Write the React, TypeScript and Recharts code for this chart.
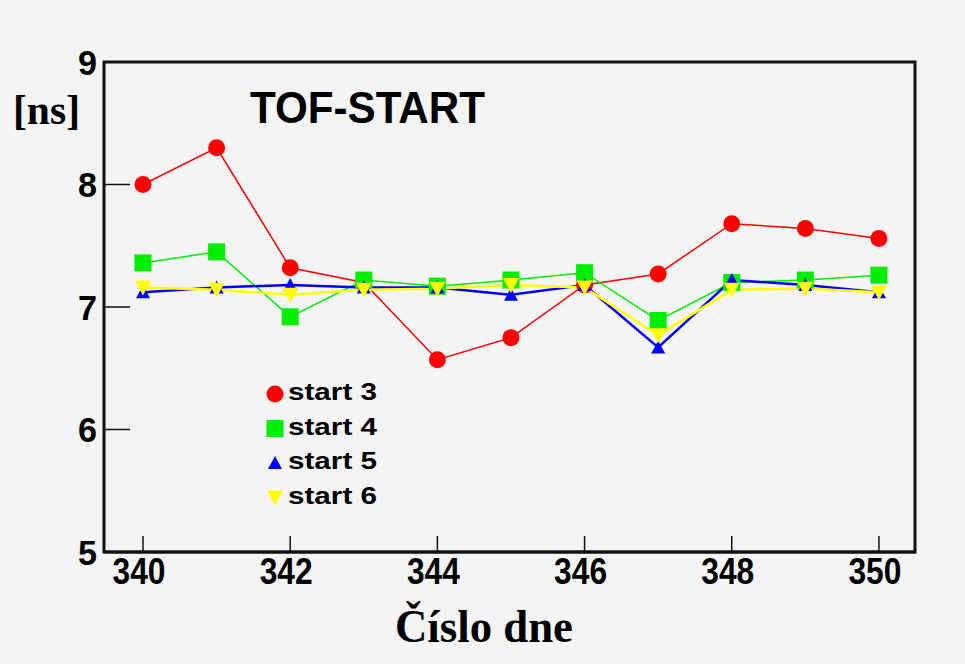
import React from 'react';
import { LineChart, Line, XAxis, YAxis, Legend, ReferenceArea } from 'recharts';

// day numbers on the x axis
const days = [340, 341, 342, 343, 344, 345, 346, 347, 348, 349, 350];

// TOF-START values [ns]
const start3 = [8.0, 8.3, 7.32, 7.2, 6.57, 6.75, 7.18, 7.27, 7.68, 7.64, 7.56];
const start4 = [7.36, 7.45, 6.92, 7.22, 7.17, 7.22, 7.28, 6.89, 7.2, 7.22, 7.26];
const start5 = [7.12, 7.16, 7.18, 7.16, 7.16, 7.1, 7.18, 6.67, 7.22, 7.18, 7.12];
const start6 = [7.16, 7.14, 7.1, 7.14, 7.15, 7.18, 7.16, 6.77, 7.14, 7.15, 7.12];

const xTicks = [340, 342, 344, 346, 348, 350];
const yTicks = [5, 6, 7, 8, 9];
const xDomain = [339.47, 350.49];
const yDomain = [5, 9];

const series = [
  { key: 'start3', name: 'start 3', color: '#ff0000', shape: 'circle', width: 1.5 },
  { key: 'start4', name: 'start 4', color: '#00ee00', shape: 'square', width: 1.5 },
  { key: 'start5', name: 'start 5', color: '#0000ff', shape: 'up', width: 2.5 },
  { key: 'start6', name: 'start 6', color: '#ffff00', shape: 'down', width: 2.5 },
];

const data = days.map((day, i) => ({
  day,
  start3: start3[i],
  start4: start4[i],
  start5: start5[i],
  start6: start6[i],
}));

const sans = "'Liberation Sans', Arial, Helvetica, sans-serif";
const serif = "'Liberation Serif', 'Times New Roman', serif";

// marker shapes, drawn centred on (cx, cy)
function Marker({ cx, cy, shape, color }: any) {
  if (cx == null || cy == null) return null;
  if (shape === 'circle') return <circle cx={cx} cy={cy} r={8.5} fill={color} />;
  if (shape === 'square') return <rect x={cx - 8.5} y={cy - 8.5} width={17} height={17} fill={color} />;
  if (shape === 'up')
    return <polygon points={`${cx - 7},${cy + 6} ${cx + 7},${cy + 6} ${cx},${cy - 7}`} fill={color} />;
  return <polygon points={`${cx - 8},${cy - 7} ${cx + 8},${cy - 7} ${cx},${cy + 8}`} fill={color} />;
}

// narrow bold digits like the original bitmap font
const XTick = ({ x, y, payload }: any) => (
  <text x={x - 4} y={y} dy="0.72em" textAnchor="middle" fontFamily={sans} fontWeight="bold" fontSize={36}
    textLength={53} lengthAdjust="spacingAndGlyphs" fill="#000">
    {payload.value}
  </text>
);

const YTick = ({ x, y, payload }: any) => (
  <text x={x} y={y} dy="0.36em" textAnchor="end" fontFamily={sans} fontWeight="bold" fontSize={35}
    textLength={19} lengthAdjust="spacingAndGlyphs" fill="#000">
    {payload.value}
  </text>
);

const LegendBox = () => (
  <svg width={130} height={140}>
    {series.map((s, i) => (
      <g key={s.key}>
        <Marker cx={13} cy={19 + i * 34.5} shape={s.shape} color={s.color} />
        <text
          x={26}
          y={25 + i * 34.5}
          fontFamily={sans}
          fontWeight="bold"
          fontSize={24}
          fill="#000"
          textLength={89}
          lengthAdjust="spacingAndGlyphs"
        >
          {s.name}
        </text>
      </g>
    ))}
  </svg>
);

export default function App() {
  return (
    <div style={{ position: 'absolute', left: 0, top: 0, width: 965, height: 664, background: '#f4f4f4' }}>
      <LineChart width={965} height={664} data={data} margin={{ top: 62, right: 50, bottom: 0, left: 0 }}>
        <XAxis
          dataKey="day"
          type="number"
          domain={xDomain}
          allowDataOverflow
          ticks={xTicks}
          height={112}
          tickSize={-16}
          tickMargin={22}
          axisLine={{ stroke: '#111', strokeWidth: 3 }}
          tickLine={{ stroke: '#111', strokeWidth: 1.5 }}
          tick={XTick}
        />
        <YAxis
          domain={yDomain}
          ticks={yTicks}
          width={104}
          tickSize={-26}
          tickMargin={33}
          axisLine={{ stroke: '#111', strokeWidth: 2 }}
          tickLine={{ stroke: '#111', strokeWidth: 1.5 }}
          tick={YTick}
        />
        <ReferenceArea
          x1={xDomain[0]}
          x2={xDomain[1]}
          y1={yDomain[0]}
          y2={yDomain[1]}
          fill="none"
          fillOpacity={0}
          stroke="#111"
          strokeWidth={3}
          ifOverflow="visible"
        />
        <Legend
          layout="vertical"
          align="center"
          verticalAlign="middle"
          wrapperStyle={{ position: 'absolute', left: 262, top: 375, width: 130 }}
          content={LegendBox}
        />
        {series.map((s) => (
          <Line
            key={s.key}
            dataKey={s.key}
            name={s.name}
            stroke={s.color}
            strokeWidth={s.width}
            isAnimationActive={false}
            dot={(p: any) => <Marker key={`${s.key}-${p.index}`} cx={p.cx} cy={p.cy} shape={s.shape} color={s.color} />}
            activeDot={false}
          />
        ))}
      </LineChart>
      <svg width={965} height={664} style={{ position: 'absolute', left: 0, top: 0, pointerEvents: 'none' }}>
        <text x={13} y={124} fontFamily={serif} fontWeight="bold" fontSize={42} textLength={67} lengthAdjust="spacingAndGlyphs">
          [ns]
        </text>
        <text x={250} y={123} fontFamily={sans} fontWeight="bold" fontSize={45} textLength={235} lengthAdjust="spacingAndGlyphs">
          TOF-START
        </text>
        <text x={395} y={642} fontFamily={serif} fontWeight="bold" fontSize={46} textLength={178} lengthAdjust="spacingAndGlyphs">
          Číslo dne
        </text>
      </svg>
    </div>
  );
}
